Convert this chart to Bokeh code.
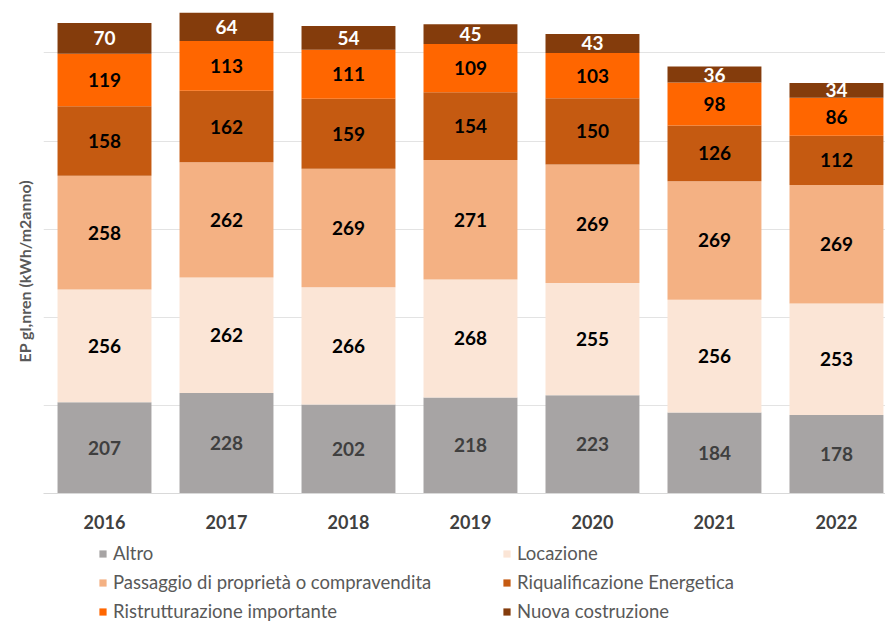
from bokeh.plotting import figure
from bokeh.layouts import column
from bokeh.models import (Range1d, Legend, LegendItem, ColumnDataSource,
                          FixedTicker, SingleIntervalTicker, Title)
from bokeh.core.properties import value
from bokeh.embed import file_html
from bokeh.resources import INLINE

years = ["2016", "2017", "2018", "2019", "2020", "2021", "2022"]
altro = [207, 228, 202, 218, 223, 184, 178]
locazione = [256, 262, 266, 268, 255, 256, 253]
passaggio = [258, 262, 269, 271, 269, 269, 269]
riqualificazione = [158, 162, 159, 154, 150, 126, 112]
ristrutturazione = [119, 113, 111, 109, 103, 98, 86]
nuova = [70, 64, 54, 45, 43, 36, 34]

series_names = ["Altro", "Locazione", "Passaggio di proprietà o compravendita",
                "Riqualificazione Energetica", "Ristrutturazione importante",
                "Nuova costruzione"]
series_values = [altro, locazione, passaggio, riqualificazione, ristrutturazione, nuova]
colors = ["#a7a4a4", "#fbe5d6", "#f4b183", "#c55a11", "#ff6600", "#843c0c"]
label_colors = ["#3f3f3f", "#000000", "#000000", "#000000", "#000000", "#ffffff"]
y_label = "EP gl,nren (kWh/m2anno)"

FONT = "Lato"

xs = list(range(len(years)))
keys = ["s%d" % i for i in range(len(series_names))]
data = {"x": xs}
for k, v in zip(keys, series_values):
    data[k] = v
src = ColumnDataSource(data)

p = figure(width=885, height=536, output_backend="svg", toolbar_location=None,
           x_range=Range1d(-0.5, 6.402), y_range=Range1d(0, 1119),
           min_border_left=43, min_border_right=0, min_border_top=0,
           min_border_bottom=43)
p.outline_line_color = None
p.background_fill_color = "white"
p.border_fill_color = "white"

renderers = p.vbar_stack(keys, x="x", width=0.77, source=src, color=colors,
                         line_color=None)

# labels at segment centers
lx, ly, lt, lc = [], [], [], []
for i in range(len(years)):
    base = 0
    for s, vals in enumerate(series_values):
        v = vals[i]
        lx.append(xs[i])
        ly.append(base + v / 2)
        lt.append(str(v))
        lc.append(label_colors[s])
        base += v
lsrc = ColumnDataSource(dict(x=lx, y=ly, text=lt, color=lc))
p.text(x="x", y="y", text="text", source=lsrc, text_color="color",
       text_align="center", text_baseline="middle",
       text_font=value(FONT), text_font_style="bold", text_font_size="19px")

# axes
p.xaxis.ticker = FixedTicker(ticks=xs)
p.xaxis.major_label_overrides = {x: y for x, y in zip(xs, years)}
p.xaxis.major_tick_out = 0
p.xaxis.major_tick_in = 0
p.xaxis.minor_tick_out = 0
p.xaxis.axis_line_color = "#d9d9d9"
p.xaxis.major_label_standoff = 21
p.xaxis.major_label_text_font = FONT
p.xaxis.major_label_text_font_style = "bold"
p.xaxis.major_label_text_font_size = "18px"
p.xaxis.major_label_text_color = "#404040"
p.xgrid.grid_line_color = None

p.yaxis.visible = False
p.ygrid.ticker = SingleIntervalTicker(interval=200)
p.ygrid.grid_line_color = "#e3e3e3"
p.ygrid.grid_line_width = 1

p.add_layout(Title(text=y_label, align="left", offset=131, standoff=19,
                   text_font=FONT, text_font_style="bold",
                   text_font_size="16px", text_color="#595959"), "left")

# legend strip: same stacked data, kept outside its visible y range,
# only used to provide the legend swatches
lg = figure(width=885, height=86, output_backend="svg", toolbar_location=None,
            min_border_left=0, min_border_right=0, min_border_top=0,
            min_border_bottom=0, x_range=Range1d(-0.5, 6.402),
            y_range=Range1d(5000, 5001))
lg.axis.visible = False
lg.grid.grid_line_color = None
lg.outline_line_color = None
swatches = lg.vbar_stack(keys, x="x", width=0.77, source=src, color=colors,
                         line_color=None)

order = [0, 2, 4, 1, 3, 5]
items = [LegendItem(label=series_names[i], renderers=[swatches[i]]) for i in order]
legend = Legend(items=items, ncols=2, location=(55, 0), orientation="vertical",
                glyph_width=9, glyph_height=9, label_standoff=6, spacing=7,
                label_width=382, label_height=20, padding=0, margin=0,
                border_line_color=None, background_fill_alpha=0,
                label_text_font=FONT, label_text_font_size="18.5px",
                label_text_color="#595959")
lg.add_layout(legend)

layout = column(p, lg, spacing=0)
open("out.html", "w").write(file_html(layout, INLINE))
